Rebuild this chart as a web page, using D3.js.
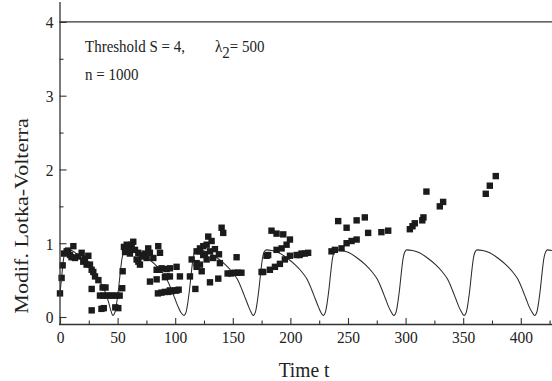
<!DOCTYPE html>
<html><head><meta charset="utf-8">
<script src="https://cdn.jsdelivr.net/npm/d3@7"></script>
<style>
html,body{margin:0;padding:0;background:#fff;}
svg text{font-family:"Liberation Serif","Times New Roman",Times,serif;fill:#222;}
</style></head>
<body><svg id="c" width="552" height="381"></svg>
<script>
// ---- data ----
const xTicks = [0, 50, 100, 150, 200, 250, 300, 350, 400];
const xMinor = [25, 75, 125, 175, 225, 275, 325, 375, 425];
const yTicks = [0, 1, 2, 3, 4];
const yMinor = [0.5, 1.5, 2.5, 3.5];
const threshold = 4;

// model curve (time, value)
const curveT = [0,1.5,3,4.5,6,10,15,20,25,30,34,37,40,42.5,44.5,45.8,
 47.8,49.3,50.8,52.3,53.8,55.3,57,62,68,75,82,88,92.5,96.5,99.5,102.5,105,107.5,
 109.5,111,112.5,114,115.5,117,118.7,123.5,129.5,136.5,143.5,149.5,154,158,161,164,166,167.7,
 169.7,171.2,172.7,174.2,175.7,177.2,179,184,190,197,204,210,214.5,218.5,221.5,224.5,226.5,228.5,
 230.5,232,233.5,235,236.5,238,240,245,251,258,265,271,275.5,279.5,282.5,285.5,287.8,289.8,
 291.8,293.3,294.8,296.3,297.8,299.3,301,306,312,319,326,332,336.5,340.5,343.5,346.5,348.8,350.8,
 352.8,354.3,355.8,357.3,358.8,360.3,362,367,373,380,387,393,397.5,401.5,404.5,407.5,410,412,
 414,415.5,417,418.5,420,421.5,423,427];
const curveV = [0.32,0.55,0.78,0.88,0.91,0.9,0.85,0.78,0.7,0.6,0.5,0.41,0.31,0.18,0.07,0.02,
 0.07,0.2,0.38,0.6,0.79,0.88,0.92,0.91,0.88,0.81,0.72,0.62,0.52,0.38,0.26,0.14,0.06,0.02,
 0.07,0.2,0.38,0.6,0.79,0.88,0.91,0.9,0.87,0.8,0.71,0.61,0.51,0.37,0.25,0.13,0.06,0.02,
 0.07,0.2,0.38,0.6,0.79,0.88,0.91,0.9,0.87,0.8,0.71,0.61,0.51,0.37,0.25,0.13,0.06,0.02,
 0.07,0.2,0.38,0.6,0.79,0.88,0.91,0.9,0.87,0.8,0.71,0.61,0.51,0.37,0.25,0.13,0.06,0.02,
 0.07,0.2,0.38,0.6,0.79,0.88,0.91,0.9,0.87,0.8,0.71,0.61,0.51,0.37,0.25,0.13,0.06,0.02,
 0.07,0.2,0.38,0.6,0.79,0.88,0.91,0.9,0.87,0.8,0.71,0.61,0.51,0.37,0.25,0.13,0.06,0.02,
 0.07,0.2,0.38,0.6,0.79,0.88,0.91,0.9];

// measured points (time, value)
const pointT = [0,1.4,2.3,3.5,5.8,7,8.7,10,11.6,13,15.9,18.8,20.2,21.7,23.1,24.6,26,27.5,28.9,30.4,
 27.5,33.3,37,39.5,27.5,36,38,48,50.6,
 34.7,37.5,40.5,43.3,46,49,51.8,
 54,54.4,55.5,56.5,57.9,58.5,60.7,60.7,62.2,63.6,65.1,66.5,68,68,69.4,71,72.3,74,75.2,76.6,78,78.1,
 81,83.9,83.9,85.3,86.3,86.8,88.2,91.1,92.5,92.5,95.4,95.4,101.2,104.1,112.8,
 85,88,91,94,97,100,103,95.4,101.2,
 117.5,114.3,118.6,118.6,121.5,124.3,118.6,
 124.4,127.3,121.5,125.8,130.2,134.5,138,133,127.3,121.5,138.8,123,128.7,131.6,140.3,141.7,130.2,137.4,153.3,
 145.5,148.5,151.5,154.5,157.5,175,
 179.3,176.4,182.2,186.6,190.9,195.2,199.6,180.7,188,192.4,196.7,199.6,183.6,188,193.8,
 205.4,208,209.7,212.6,215.4,
 235.7,238.6,244.4,248.8,253.1,257.5,
 241.5,248.8,257.5,264.6,267.5,279,284.9,303.7,306,308,314.5,315.5,318.1,329.7,332.6,
 369.6,373.1,378.3];
const pointV = [0.32,0.53,0.70,0.86,0.89,0.9,0.84,0.81,0.96,0.80,0.82,0.87,0.75,0.79,0.71,0.83,0.71,0.64,0.61,0.55,
 0.38,0.5,0.40,0.40,0.09,0.11,0.12,0.13,0.12,
 0.29,0.29,0.29,0.29,0.29,0.29,0.29,
 0.39,0.62,0.95,0.88,0.98,0.91,0.91,0.86,0.98,1.02,0.91,0.78,0.87,0.75,0.71,0.82,0.84,0.86,0.8,0.93,0.87,0.48,
 0.8,0.64,0.51,0.96,0.64,0.87,0.66,0.54,0.55,0.65,0.66,0.55,0.68,0.55,0.55,
 0.32,0.33,0.34,0.34,0.35,0.36,0.37,0.36,0.36,
 0.38,0.78,0.73,0.89,0.93,0.84,0.68,
 0.96,0.98,0.89,0.85,0.89,0.92,0.85,0.8,0.78,0.71,0.73,0.62,1.09,1.03,1.21,1.14,0.47,0.52,0.81,
 0.59,0.59,0.6,0.6,0.6,0.61,
 0.83,0.61,0.64,0.68,0.72,0.78,0.83,0.84,0.91,0.93,0.98,1.05,1.17,1.13,1.12,
 0.84,0.84,0.86,0.86,0.87,
 0.89,0.91,0.93,1.0,1.03,1.05,
 1.30,1.21,1.31,1.35,1.14,1.15,1.17,1.19,1.23,1.27,1.31,1.35,1.70,1.50,1.56,
 1.67,1.78,1.91];

// ---- drawing ----
const FONT = '"Liberation Serif","Times New Roman",Times,serif';
const svg = d3.select("#c");
const x = d3.scaleLinear().domain([0, 427.1]).range([60, 552]);
const y = d3.scaleLinear().domain([-0.095, 4.27]).range([324, 2]);
const ink = "#222";

// threshold line
svg.append("line").attr("x1", x.range()[0] - 0.5).attr("x2", 552)
  .attr("y1", y(threshold)).attr("y2", y(threshold))
  .attr("stroke", "#333").attr("stroke-width", 1.2);

// curve
svg.append("clipPath").attr("id","clip").append("rect")
  .attr("x", 59).attr("y", 0).attr("width", 493).attr("height", 324);
const curveData = curveT.map((t,i)=>[t, curveV[i]]);
svg.append("path").datum(curveData)
  .attr("clip-path","url(#clip)")
  .attr("fill","none").attr("stroke", "#2a2a2a").attr("stroke-width", 1.05)
  .attr("d", d3.line().x(d=>x(d[0])).y(d=>y(d[1])).curve(d3.curveMonotoneX));

// points
const pts = pointT.map((t,i)=>[t, pointV[i]]);
const s = 6.4;
svg.append("g").selectAll("rect").data(pts).join("rect")
  .attr("x", d=>x(d[0]) - s/2).attr("y", d=>y(d[1]) - s/2)
  .attr("width", s).attr("height", s).attr("fill", "#1b1b1b");

// axes
const gx = svg.append("g").attr("transform", `translate(0,${y.range()[0]})`)
  .call(d3.axisBottom(x).tickValues(xTicks).tickSize(-6).tickPadding(0).tickFormat(d3.format("d")));
svg.append("g").attr("transform", `translate(0,${y.range()[0]})`)
  .call(d3.axisBottom(x).tickValues(xMinor).tickSize(-3.5).tickFormat(""))
  .call(g=>g.select(".domain").remove());
const gy = svg.append("g").attr("transform", `translate(${x.range()[0]-0.5},0)`)
  .call(d3.axisLeft(y).tickValues(yTicks).tickSize(-7).tickPadding(0).tickFormat(d3.format("d")));
svg.append("g").attr("transform", `translate(${x.range()[0]-0.5},0)`)
  .call(d3.axisLeft(y).tickValues(yMinor).tickSize(-4).tickFormat(""))
  .call(g=>g.select(".domain").remove());

svg.selectAll("g").attr("font-family", null);
svg.selectAll(".domain").attr("stroke", "#333").attr("stroke-width", 1.3);
svg.selectAll(".tick line").attr("stroke", "#333").attr("stroke-width", 1.1);
gx.select(".domain").attr("d", `M59,0.5H552`);
gy.select(".domain").attr("d", `M0.5,${y.range()[0]+0.5}V${y.range()[1]}`);

gx.selectAll(".tick text")
  .attr("y", null).attr("dy", null)
  .attr("transform", "translate(0,19) scale(1,1.12)")
  .attr("font-family", FONT).style("font-size", "15.5px").attr("fill", ink);
gy.selectAll(".tick text")
  .attr("x", null).attr("dy", null)
  .attr("transform", "translate(-6,6) scale(1,1.12)")
  .attr("font-family", FONT).style("font-size", "15.5px").attr("fill", ink);

// titles
function stretchedText(tx, ty, str, size, anchor, rot){
  const g = svg.append("g").attr("transform",
    rot ? `translate(${tx},${ty}) rotate(-90) scale(1.13,1)` : `translate(${tx},${ty}) scale(1,1.12)`);
  return g.append("text").attr("text-anchor", anchor).attr("font-family", FONT)
    .style("font-size", size+"px").text(str);
}
stretchedText(304, 377, "Time t", 19.5, "middle", false);
stretchedText(28, 216, "Modif. Lotka-Volterra", 19.5, "middle", true);

stretchedText(85, 52, "Threshold S = 4,", 15, "start", false);
const lam = stretchedText(215, 52, "λ", 15, "start", false);
lam.append("tspan").attr("dy", 5).text("2");
lam.append("tspan").attr("dy", -5).text("= 500");
stretchedText(85, 80, "n = 1000", 15, "start", false);
</script></body></html>
